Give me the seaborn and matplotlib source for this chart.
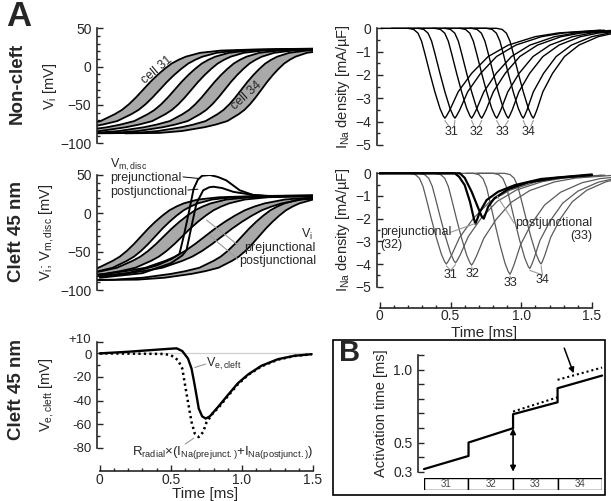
#recreating the cleft / non-cleft conduction figure
import numpy as np
import matplotlib
matplotlib.use("Agg")
import matplotlib.pyplot as plt
from matplotlib.ticker import MultipleLocator
from matplotlib.patches import Rectangle
from matplotlib.transforms import ScaledTranslation
import seaborn as sns

#---------------- data ----------------
#shared V_i upstroke shape (time relative to the -30 mV crossing [ms], mV)
vi_shape_dt = [-1.2, -0.9, -0.7, -0.5, -0.4, -0.3, -0.2, -0.15, -0.1, -0.05, 0.0,
               0.05, 0.1, 0.15, 0.2, 0.25, 0.3, 0.4, 0.55, 0.8, 1.2, 1.6]
vi_shape_v = [-87, -86.5, -84, -79, -75.5, -71, -62, -56.5, -49, -40, -30,
              -20, -11, -3, 4, 9, 13, 18, 21, 22.5, 23.5, 24.5]

#non-cleft: -30 mV crossing of first / last segment of cells 31..34
nc_cross = [0.305, 0.422, 0.527, 0.645, 0.762, 0.879, 0.996, 1.137]
nc_stretch = [1.0, 1.0, 0.95, 0.92, 0.9, 0.87, 0.84, 0.8]

#cleft 45 nm
cl_cross = [0.29, 0.39, 0.45, 0.58, 0.74, 0.86, 1.0, 1.12]
cl_stretch = [1.0, 1.0, 1.1, 1.1, 1.4, 1.4, 1.0, 0.95]

#V_m,disc traces
pre_t = [0, 0.2, 0.4, 0.5, 0.56, 0.59, 0.625, 0.66, 0.69, 0.72, 0.774, 0.83, 0.89,
         0.985, 1.078, 1.22, 1.5]
pre_v = [-82, -78, -68, -60, -53, -30, 0, 32, 44, 49, 50, 47.5, 43, 30, 24, 21.7, 22.5]
post_t = [0, 0.3, 0.5, 0.58, 0.61, 0.645, 0.68, 0.727, 0.77, 0.80, 0.86, 0.94,
          1.078, 1.25, 1.5]
post_v = [-84, -78, -65, -55, -48, -17, 13, 30, 34, 34.7, 33, 28, 24, 22, 22.5]

#shared I_Na shape (time relative to peak [ms], mA/uF)
ina_shape_dt = [-0.45, -0.26, -0.22, -0.19, -0.165, -0.142, -0.106, -0.071, -0.035,
                -0.012, 0.0, 0.012, 0.035, 0.094, 0.189, 0.306, 0.448, 0.637, 0.8, 1.1]
ina_shape_v = [0, 0, -0.05, -0.21, -0.55, -1.07, -1.93, -2.72, -3.43,
               -3.75, -3.85, -3.75, -3.5, -2.72, -1.93, -1.21, -0.72, -0.36, -0.2, -0.08]

nc_ina_tmin = [0.46, 0.531, 0.649, 0.72, 0.826, 0.908, 1.014, 1.085]
nc_ina_depth = [3.85, 3.85, 3.85, 3.85, 3.85, 3.85, 3.85, 3.85]
nc_ina_tail = [1.0, 0.96, 0.92, 0.88, 0.84, 0.8, 0.76, 0.72]
nc_labels = ["31", "32", "33", "34"]
nc_label_t = [0.507, 0.684, 0.866, 1.05]

cl_ina_tmin = [0.47, 0.535, 0.649, 0.92, 1.06, 1.14]
cl_ina_depth = [4.0, 3.95, 4.05, 4.45, 4.2, 4.0]
cl_ina_tail = [1.0, 0.96, 0.92, 0.8, 0.76, 0.72]
cl_label_t = [0.50, 0.655, 0.925, 1.15]
cl_label_v = [-4.5, -4.45, -4.85, -4.7]
cl_label_of = [0, 0, 1, 2, 3, 3]   #which label each gray trough belongs to

ina_pre_t = [0, 0.53, 0.56, 0.60, 0.637, 0.665, 0.675, 0.69, 0.708, 0.755, 0.837,
             0.955, 1.14, 1.5]
ina_pre_v = [0, 0, -0.15, -0.52, -1.25, -2.0, -2.22, -2.0, -1.69, -1.18, -0.81,
             -0.52, -0.25, -0.05]
ina_post_t = [0, 0.566, 0.60, 0.649, 0.696, 0.72, 0.735, 0.766, 0.81, 0.908, 1.05,
              1.25, 1.5]
ina_post_v = [0, 0, -0.2, -0.81, -1.54, -1.9, -2.0, -1.47, -1.1, -0.7, -0.4,
              -0.2, -0.08]

#V_e,cleft and R_radial x (I_Na pre + post)
ve_t = [0, 0.2, 0.43, 0.54, 0.58, 0.62, 0.645, 0.663, 0.68, 0.696, 0.72, 0.745,
        0.774, 0.832, 0.90, 0.97, 1.043, 1.137, 1.254, 1.371, 1.49]
ve_v = [0, 1.4, 3.4, 4.3, 2.0, -4.3, -12.8, -24, -35.5, -46.8, -53.4, -55.3,
        -53.4, -45.4, -35.5, -25.5, -17.9, -10.5, -4.9, -2.0, -0.7]
rr_t = [0, 0.3, 0.45, 0.50, 0.55, 0.58, 0.60, 0.62, 0.645, 0.668, 0.696, 0.727,
        0.75, 0.80, 0.832, 0.90, 0.97, 1.043, 1.137, 1.254, 1.371, 1.49]
rr_v = [0, -0.3, -0.5, -1.5, -5.7, -12.8, -27, -41, -58, -68, -71, -66.7,
        -58.7, -50, -46.5, -36.4, -26.4, -18.3, -11, -5.3, -2.2, -0.8]

#panel B activation times
cells = ["31", "32", "33", "34"]
b_x = [0, 1, 1, 2, 2, 3, 3, 4]
b_solid = [0.318, 0.408, 0.50, 0.598, 0.694, 0.776, 0.872, 0.959]
b_dot_x = [[2, 3], [3, 4]]
b_dot = [[0.712, 0.81], [0.93, 1.014]]

#---------------- style ----------------
sns.set_theme(style="ticks")
plt.rcParams["font.family"] = ["Liberation Sans", "DejaVu Sans"]
plt.rcParams["mathtext.fontset"] = "custom"
plt.rcParams["mathtext.rm"] = "Liberation Sans"
plt.rcParams["mathtext.default"] = "regular"
plt.rcParams["axes.linewidth"] = 1.2

W, H = 611, 501
def box(l, t, r, b):
    return [l / W, 1 - b / H, (r - l) / W, (b - t) / H]

def vi_curve(t0, s):
    return t0 + np.array(vi_shape_dt) * s, np.array(vi_shape_v)

def ina_curve(t0, depth, tail):
    dt = np.array(ina_shape_dt)
    x = t0 + np.where(dt > 0, dt * tail, dt)
    return x, np.array(ina_shape_v) * depth / 3.85

def style_axis(ax, ylim, yticks, yminor, xaxis=False, offset=15, xlab_y=-0.33):
    sns.despine(ax=ax)
    ax.set_facecolor("white")
    ax.set_xlim(-0.02, 1.5)
    ax.set_ylim(*ylim)
    ax.set_yticks(yticks)
    ax.yaxis.set_minor_locator(MultipleLocator(yminor))
    ax.tick_params(which="both", direction="in", labelsize=10, pad=4, width=1)
    ax.tick_params(which="major", length=4)
    ax.tick_params(which="minor", length=2.5)
    if xaxis:
        ax.spines["bottom"].set_position(("outward", offset))
        ax.spines["bottom"].set_bounds(0, 1.5)
        ax.set_xticks([0, 0.5, 1.0, 1.5])
        ax.set_xticklabels(["0", "0.5", "1.0", "1.5"])
        ax.xaxis.set_minor_locator(MultipleLocator(0.1))
        ax.tick_params(axis="x", pad=1)
        ax.set_xlabel("Time [ms]", fontsize=11)
        ax.xaxis.set_label_coords(0.5, xlab_y)
    else:
        ax.spines["bottom"].set_visible(False)
        ax.tick_params(axis="x", which="both", bottom=False, labelbottom=False)

def draw_bands(ax, cross, stretch):
    for k in range(0, len(cross), 2):
        x1, y1 = vi_curve(cross[k], stretch[k])
        x2, y2 = vi_curve(cross[k + 1], stretch[k + 1])
        ax.fill(np.concatenate([x1, x2[::-1]]), np.concatenate([y1, y2[::-1]]),
                color="#a9a9a9", lw=0, zorder=1)
        ax.plot(x1, y1, color="black", lw=1.3, zorder=2)
        ax.plot(x2, y2, color="black", lw=1.3, zorder=2)

fig = plt.figure(figsize=(6.11, 5.01), dpi=100)
fig.patch.set_facecolor("white")
lead = "#9a9a9a"

#---------------- top left: non-cleft V_i ----------------
ax1 = fig.add_axes(box(97, 28.3, 313, 143.3))
draw_bands(ax1, nc_cross, nc_stretch)
style_axis(ax1, (-100, 50), [-100, -50, 0, 50], 10)
ax1.set_ylabel("V$_{i}$ [mV]", fontsize=10.5)
ax1.yaxis.set_label_coords(-0.176, 0.5)
ax1.text(0.40, -5, "cell 31", rotation=40, fontsize=9, ha="center", va="center")
ax1.text(1.03, -38, "cell 34", rotation=42, fontsize=9, ha="center", va="center")

#---------------- top right: non-cleft I_Na ----------------
ax2 = fig.add_axes(box(377, 28.3, 592, 145))
for t0, d, tl in zip(nc_ina_tmin, nc_ina_depth, nc_ina_tail):
    x, y = ina_curve(t0, d, tl)
    ax2.plot(x, y, color="black", lw=1.0, clip_on=False)
for i, t0 in enumerate(nc_ina_tmin):
    lt = nc_label_t[i // 2] + (-0.018 if i % 2 == 0 else 0.018)
    ax2.plot([t0, lt], [-3.95, -4.2], color=lead, lw=0.8)
for lab, lt in zip(nc_labels, nc_label_t):
    ax2.text(lt, -4.45, lab, fontsize=9, ha="center", va="center")
style_axis(ax2, (-5, 0), [-5, -4, -3, -2, -1, 0], 0.5)
ax2.set_ylabel("I$_{Na}$ density [mA/µF]", fontsize=10.5)
ax2.yaxis.set_label_coords(-0.116, 0.5)

#---------------- middle left: cleft V_i and V_m,disc ----------------
ax3 = fig.add_axes(box(97, 175, 313, 290))
draw_bands(ax3, cl_cross, cl_stretch)
ax3.plot(pre_t, pre_v, color="black", lw=1.4, zorder=3)
ax3.plot(post_t, post_v, color="black", lw=1.4, zorder=3)
style_axis(ax3, (-100, 50), [-100, -50, 0, 50], 10)
ax3.set_ylabel("V$_{i}$; V$_{m,disc}$ [mV]", fontsize=10.5)
ax3.yaxis.set_label_coords(-0.19, 0.5)
ax3.text(0.07, 63, "V$_{m,disc}$", fontsize=9, ha="left", va="center", clip_on=False)
ax3.text(0.07, 46, "prejunctional", fontsize=9, ha="left", va="center")
ax3.text(0.07, 28, "postjunctional", fontsize=9, ha="left", va="center")
ax3.plot([0.585, 0.69], [47.5, 45.6], color="black", lw=0.7)
ax3.plot([0.62, 0.69], [30.4, 31.5], color="black", lw=0.7)
ax3.text(1.5, -28, "V$_{i}$", fontsize=9, ha="right", va="center", clip_on=False)
ax3.text(1.52, -45, "prejunctional", fontsize=9, ha="right", va="center", clip_on=False)
ax3.text(1.52, -62, "postjunctional", fontsize=9, ha="right", va="center", clip_on=False)
ax3.plot([0.97, 0.75], [-41, -8.7], color=lead, lw=0.8, zorder=4)
ax3.plot([0.97, 0.774], [-59.6, -29], color=lead, lw=0.8, zorder=4)

#---------------- middle right: cleft I_Na ----------------
ax4 = fig.add_axes(box(377, 173.3, 592, 286.7))
for t0, d, tl in zip(cl_ina_tmin, cl_ina_depth, cl_ina_tail):
    x, y = ina_curve(t0, d, tl)
    ax4.plot(x, y, color="#5a5a5a", lw=0.9, clip_on=False)
ax4.plot(ina_pre_t, ina_pre_v, color="black", lw=1.6, clip_on=False)
ax4.plot(ina_post_t, ina_post_v, color="black", lw=1.6, clip_on=False)
for i, t0 in enumerate(cl_ina_tmin):
    j = cl_label_of[i]
    ax4.plot([t0, cl_label_t[j]], [-cl_ina_depth[i] - 0.08, cl_label_v[j] + 0.22],
             color=lead, lw=0.8)
for lab, lt, lv in zip(nc_labels, cl_label_t, cl_label_v):
    ax4.text(lt, lv, lab, fontsize=9, ha="center", va="center")
ax4.text(0.0, -2.6, "prejunctional", fontsize=9, ha="left", va="center")
ax4.text(0.0, -3.15, "(32)", fontsize=9, ha="left", va="center")
ax4.plot([0.50, 0.672], [-2.6, -2.22], color=lead, lw=0.8)
ax4.text(1.5, -2.2, "postjunctional", fontsize=9, ha="right", va="center")
ax4.text(1.5, -2.75, "(33)", fontsize=9, ha="right", va="center")
ax4.plot([0.95, 0.83], [-2.2, -1.0], color=lead, lw=0.8)
style_axis(ax4, (-5, 0), [-5, -4, -3, -2, -1, 0], 0.5, xaxis=True, offset=15,
           xlab_y=-0.35)
ax4.set_ylabel("I$_{Na}$ density [mA/µF]", fontsize=10.5)
ax4.yaxis.set_label_coords(-0.116, 0.5)

#---------------- bottom left: V_e,cleft ----------------
ax5 = fig.add_axes(box(97, 341.6, 313, 447.7))
ax5.axhline(0, color="#cfcfcf", lw=0.9, zorder=0)
sns.lineplot(x=rr_t, y=rr_v, ax=ax5, color="black", lw=1.8,
             linestyle=(0, (0.9, 1.3)), clip_on=False)
sns.lineplot(x=ve_t, y=ve_v, ax=ax5, color="black", lw=1.7)
style_axis(ax5, (-80, 10), [-80, -60, -40, -20, 0, 10], 10, xaxis=True, offset=17,
           xlab_y=-0.375)
ax5.set_yticklabels(["-80", "-60", "-40", "-20", "0", "+10"])
ax5.tick_params(axis="y", labelsize=9.5)
ylabs = ax5.get_yticklabels()
ylabs[-1].set_transform(ylabs[-1].get_transform()
                        + ScaledTranslation(0, 2 / 72, fig.dpi_scale_trans))
ylabs[-2].set_transform(ylabs[-2].get_transform()
                        + ScaledTranslation(0, -1 / 72, fig.dpi_scale_trans))
ax5.set_ylabel("V$_{e,cleft}$ [mV]", fontsize=10.5)
ax5.yaxis.set_label_coords(-0.19, 0.5)
ax5.text(0.75, -9, "V$_{e,cleft}$", fontsize=9, ha="left", va="center")
ax5.plot([0.668, 0.745], [-12, -9], color=lead, lw=0.8)
ax5.text(1.5, -84, "R$_{radial}$×(I$_{Na(prejunct.)}$+I$_{Na(postjunct.)}$)",
         fontsize=9.5, ha="right", va="center", clip_on=False)
ax5.plot([0.66, 0.60], [-72, -77], color=lead, lw=0.8, clip_on=False)

#---------------- panel B ----------------
ax6 = fig.add_axes(box(418, 355, 607, 471.7))
ax6.set_facecolor("none")
sns.lineplot(x=b_x, y=b_solid, ax=ax6, sort=False, estimator=None,
             color="black", lw=1.6)
for xs, ys in zip(b_dot_x, b_dot):
    ax6.plot(xs, ys, color="black", lw=1.5, linestyle=(0, (1, 1.4)))
sns.despine(ax=ax6, bottom=True)
ax6.set_xlim(-0.135, 4.11)
ax6.set_ylim(0.3, 1.1)
ax6.set_yticks(np.round(np.arange(0.3, 1.11, 0.1), 1))
ax6.set_yticklabels(["0.3", "", "0.5", "", "", "", "", "1.0", ""])
ax6.tick_params(axis="y", direction="in", length=4, width=1, labelsize=10, pad=4)
ax6.tick_params(axis="x", bottom=False, labelbottom=False)
ax6.set_ylabel("Activation time [ms]", fontsize=10.5)
ax6.yaxis.set_label_coords(-0.159, 0.5)
ax6.annotate("", xy=(2, 0.30), xytext=(2, 0.598),
             arrowprops=dict(arrowstyle="<|-|>", color="black", lw=1.2,
                             mutation_scale=8, shrinkA=0, shrinkB=0))
ax6.annotate("", xy=(3.36, 0.975), xytext=(3.15, 1.147), annotation_clip=False,
             arrowprops=dict(arrowstyle="-|>", color="black", lw=1.1,
                             mutation_scale=8, shrinkA=0, shrinkB=0))

ax7 = fig.add_axes(box(424, 478, 602, 490))
ax7.bar(range(len(cells)), [1] * len(cells), width=1, align="edge",
        color="white", edgecolor="black", lw=1.0)
for i, c in enumerate(cells):
    ax7.text(i + 0.5, 0.5, c, fontsize=7, ha="center", va="center", color="#444444")
ax7.set_xlim(0, 4)
ax7.set_ylim(0, 1)
ax7.axis("off")

fig.patches.append(Rectangle((333 / W, 1 - 495 / H), 272 / W, 155 / H,
                             transform=fig.transFigure, fill=False,
                             edgecolor="black", lw=1.2))

#---------------- panel letters and row labels ----------------
fig.text(19 / W, 1 - 17 / H, "A", fontsize=25, fontweight="bold",
         ha="center", va="center")
fig.text(350 / W, 1 - 353 / H, "B", fontsize=21, fontweight="bold",
         ha="center", va="center")
for y, lab in [(83, "Non-cleft"), (231, "Cleft 45 nm"), (390, "Cleft 45 nm")]:
    fig.text(17 / W, 1 - y / H, lab, fontsize=13.5, fontweight="bold",
             rotation=90, ha="center", va="center")

fig.savefig("out.png", dpi=100, facecolor="white")
